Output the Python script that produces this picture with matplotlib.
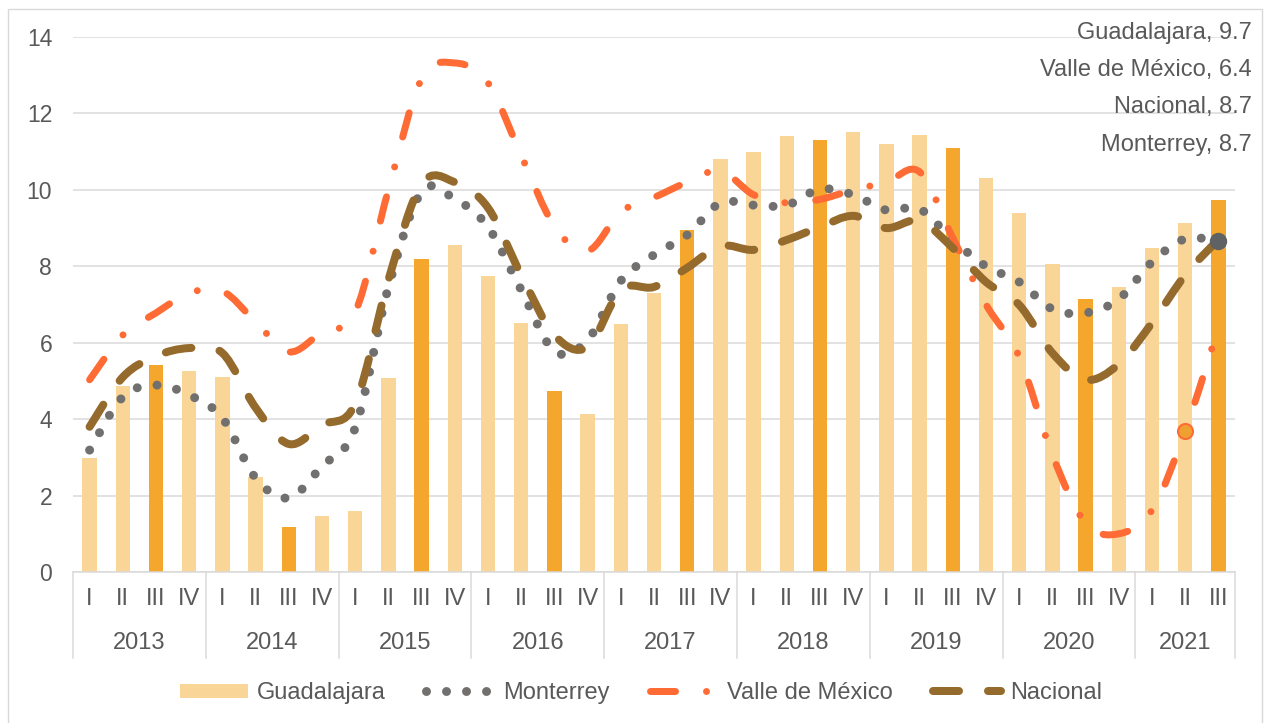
import numpy as np
import matplotlib
matplotlib.use('Agg')
import matplotlib.pyplot as plt
from matplotlib.path import Path
from matplotlib.patches import PathPatch, Patch, Rectangle
from matplotlib.lines import Line2D

plt.rcParams['font.family'] = ['Liberation Sans', 'DejaVu Sans']
plt.rcParams['lines.scale_dashes'] = False

# Data
years = ['2013', '2014', '2015', '2016', '2017', '2018', '2019', '2020', '2021']
quarters_per_year = [4, 4, 4, 4, 4, 4, 4, 4, 3]
quarter_names = ['I', 'II', 'III', 'IV']

guadalajara = [2.98, 4.87, 5.41, 5.26, 5.10, 2.49, 1.18, 1.47, 1.60, 5.08, 8.19, 8.56,
               7.75, 6.52, 4.74, 4.14, 6.49, 7.30, 8.95, 10.81, 10.99, 11.41, 11.31, 11.52,
               11.20, 11.44, 11.10, 10.31, 9.40, 8.06, 7.14, 7.46, 8.48, 9.14, 9.74]
monterrey = [3.19, 4.58, 4.89, 4.63, 4.03, 2.46, 1.94, 2.77, 3.77, 7.45, 9.95, 9.76,
             9.03, 7.38, 5.78, 6.07, 7.62, 8.30, 8.82, 9.66, 9.60, 9.60, 10.02, 9.87,
             9.47, 9.50, 8.69, 8.00, 7.59, 6.88, 6.78, 7.14, 8.11, 8.72, 8.66]
valle = [5.03, 6.20, 6.78, 7.30, 7.35, 6.55, 5.76, 6.28, 6.80, 10.00, 12.90, 13.32,
         12.80, 10.90, 9.05, 8.40, 9.42, 9.80, 10.20, 10.50, 9.87, 9.66, 9.75, 10.00,
         10.20, 10.47, 8.74, 7.00, 5.63, 3.06, 1.28, 1.00, 1.62, 3.69, 6.40]
nacional = [3.80, 5.10, 5.65, 5.86, 5.73, 4.30, 3.35, 3.85, 4.40, 7.64, 10.15, 10.20,
            9.53, 7.77, 6.20, 5.89, 7.38, 7.46, 7.96, 8.53, 8.43, 8.69, 9.03, 9.32,
            9.00, 9.19, 8.48, 7.59, 6.99, 5.73, 5.03, 5.44, 6.52, 7.77, 8.70]

quarters = [q for n in quarters_per_year for q in quarter_names[:n]]
x = np.arange(len(quarters))

TXT = '#595959'
GRID = '#D9D9D9'
C_LIGHT = '#F9D597'
C_DARK = '#F5A72D'
C_MTY = '#726F6F'
C_VM = '#FF6B35'
C_NAC = '#956A2D'
FS = 17

PT = 72 / 100  # points per pixel


def smooth_path(xs, ys):
    # Excel-like smoothed line as cubic Bezier segments
    pts = np.column_stack([xs, ys])
    n = len(pts)
    verts = [pts[0]]
    codes = [Path.MOVETO]
    for i in range(n - 1):
        p0 = pts[i - 1] if i > 0 else pts[i]
        p1 = pts[i]
        p2 = pts[i + 1]
        p3 = pts[i + 2] if i + 2 < n else pts[i + 1]
        verts += [p1 + (p2 - p0) / 6, p2 - (p3 - p1) / 6, p2]
        codes += [Path.CURVE4] * 3
    return Path(verts, codes)


fig = plt.figure(figsize=(12.66, 7.23), dpi=100)
ax = fig.add_axes([73 / 1266, 1 - 572 / 723, (1235 - 73) / 1266, (572 - 37) / 723])

bar_colors = [C_DARK if q == 'III' else C_LIGHT for q in quarters]
ax.bar(x, guadalajara, width=0.43, color=bar_colors, zorder=2)

styles = {
    'Monterrey': dict(color=C_MTY, lw=9 * PT, ls=(0, (0.01, 20 * PT))),
    'Valle de México': dict(color=C_VM, lw=7 * PT,
                            ls=(0, (25 * PT, 31 * PT, 0.01, 31 * PT))),
    'Nacional': dict(color=C_NAC, lw=8 * PT, ls=(0, (26 * PT, 29 * PT))),
}
series = [('Monterrey', monterrey), ('Valle de México', valle), ('Nacional', nacional)]
for z, (name, vals) in enumerate(series):
    st = styles[name]
    patch = PathPatch(smooth_path(x, vals), fill=False, edgecolor=st['color'],
                      linewidth=st['lw'], linestyle=st['ls'], capstyle='round',
                      joinstyle='round', zorder=3 + z)
    ax.add_patch(patch)

# highlighted points
ax.plot(x[-1], monterrey[-1], 'o', ms=16 * PT, color='#5F6162', zorder=7)
ax.plot(x[-2], valle[-2], 'o', ms=15 * PT, mfc='#F0A030', mec=C_VM, mew=1.5, zorder=7)

ax.set_xlim(-0.5, len(x) - 0.5)
ax.set_ylim(0, 14)
ax.set_yticks(range(0, 15, 2))
ax.tick_params(axis='y', length=0, pad=15, labelsize=16.5, labelcolor=TXT)
ax.set_xticks([])
ax.grid(axis='y', color=GRID, lw=1.5 * PT, zorder=0)
ax.set_axisbelow(True)
for s in ['top', 'right', 'left']:
    ax.spines[s].set_visible(False)
ax.spines['bottom'].set_color(GRID)
ax.spines['bottom'].set_linewidth(1.5 * PT)

# two-level category axis
trans = ax.get_xaxis_transform()
h = 535
for xi, q in zip(x, quarters):
    ax.text(xi, -27 / h, q, transform=trans, ha='center', va='center',
            fontsize=FS, color=TXT)
start = 0
bounds = [-0.5]
for yr, n in zip(years, quarters_per_year):
    ax.text(start + (n - 1) / 2, -71 / h, yr, transform=trans, ha='center',
            va='center', fontsize=FS, color=TXT)
    start += n
    bounds.append(start - 0.5)
for b in bounds:
    ax.plot([b, b], [0, -86 / h], transform=trans, color=GRID, lw=1.5 * PT,
            clip_on=False)

# end-value labels
labels = [('Guadalajara', guadalajara[-1]), ('Valle de México', valle[-1]),
          ('Nacional', nacional[-1]), ('Monterrey', monterrey[-1])]
for (name, v), yp in zip(labels, [33, 70, 107, 145]):
    fig.text(1252 / 1266, 1 - yp / 723, f'{name}, {v:.1f}', ha='right', va='center',
             fontsize=FS, color=TXT)

# legend
handles = [Patch(facecolor=C_LIGHT, edgecolor='none')]
for name, _ in series:
    st = styles[name]
    handles.append(Line2D([], [], color=st['color'], lw=st['lw'], ls=st['ls'],
                          dash_capstyle='round'))
fig.legend(handles, ['Guadalajara', 'Monterrey', 'Valle de México', 'Nacional'],
           loc='center', bbox_to_anchor=(641 / 1266, 1 - 693 / 723), ncol=4,
           frameon=False, fontsize=FS, labelcolor=TXT, handlelength=2.88,
           handleheight=0.55, handletextpad=0.38, columnspacing=1.7)

# outer frame
fig.patches.append(Rectangle((8 / 1266, -0.01), 1254 / 1266, 1 - 9 / 723 + 0.01,
                             transform=fig.transFigure, fill=False,
                             edgecolor=GRID, lw=1))

fig.savefig('out.png', dpi=100)
